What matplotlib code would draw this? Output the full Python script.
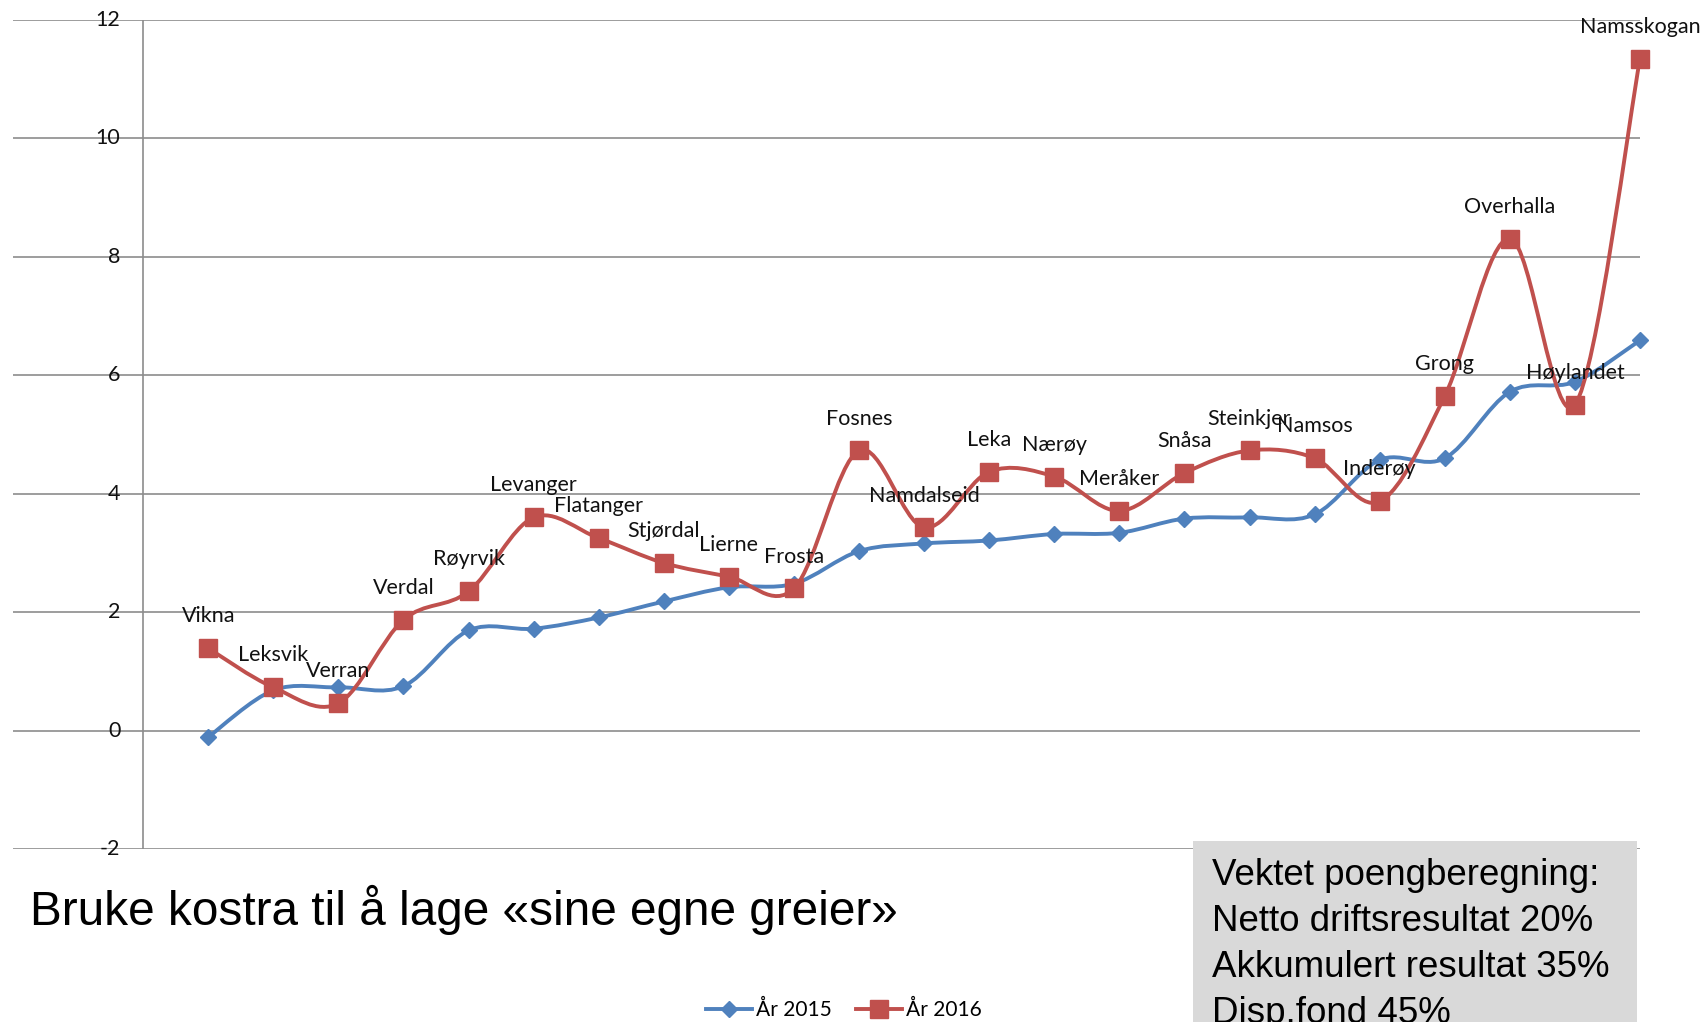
import matplotlib
matplotlib.use("Agg")
import matplotlib.pyplot as plt
import numpy as np
from matplotlib.path import Path
from matplotlib.patches import PathPatch, Rectangle
from matplotlib.lines import Line2D

kommuner = ["Vikna", "Leksvik", "Verran", "Verdal", "Røyrvik", "Levanger", "Flatanger",
            "Stjørdal", "Lierne", "Frosta", "Fosnes", "Namdalseid", "Leka", "Nærøy",
            "Meråker", "Snåsa", "Steinkjer", "Namsos", "Inderøy", "Grong", "Overhalla",
            "Høylandet", "Namsskogan"]
aar_2015 = [-0.11, 0.68, 0.73, 0.75, 1.69, 1.72, 1.91, 2.18, 2.42, 2.48, 3.03, 3.16,
            3.21, 3.32, 3.34, 3.58, 3.60, 3.65, 4.57, 4.60, 5.72, 5.89, 6.59]
aar_2016 = [1.39, 0.73, 0.46, 1.87, 2.35, 3.60, 3.25, 2.83, 2.60, 2.40, 4.73, 3.43,
            4.37, 4.29, 3.71, 4.35, 4.73, 4.60, 3.87, 5.65, 8.31, 5.50, 11.34]
y_ticks = [-2, 0, 2, 4, 6, 8, 10, 12]

BLUE = "#4F81BD"
RED = "#C0504D"
LABEL_FONT = "Lato"


def smooth_path(x, y):
    # Excel-like smoothed line: cubic bezier through every point
    pts = np.column_stack([x, y])
    n = len(pts)
    verts = [pts[0]]
    codes = [Path.MOVETO]
    for i in range(n - 1):
        p_prev = pts[i - 1] if i > 0 else pts[i]
        p0 = pts[i]
        p1 = pts[i + 1]
        p_next = pts[i + 2] if i + 2 < n else pts[i + 1]
        c1 = p0 + (p1 - p_prev) / 6.0
        c2 = p1 - (p_next - p0) / 6.0
        verts += [c1, c2, p1]
        codes += [Path.CURVE4] * 3
    return Path(verts, codes)


fig = plt.figure(figsize=(17.05, 10.22), dpi=100)
ax = fig.add_axes([13 / 1705, 1 - 849 / 1022, (1640 - 13) / 1705, (849 - 20) / 1022])

x = np.arange(1, len(kommuner) + 1)
ax.set_xlim(-2, len(kommuner))
ax.set_ylim(-2, 12)
for s in ax.spines.values():
    s.set_visible(False)
ax.set_xticks([])
ax.set_yticks([])

for v in y_ticks:
    ax.axhline(v, color="#8c8c8c", lw=1.2, zorder=0)
    ax.text(-0.35, v, str(v), ha="right", va="center", fontsize=15.5,
            family=LABEL_FONT, color="#111111")
ax.axvline(0, color="#8c8c8c", lw=1.2, zorder=0)

ax.add_patch(PathPatch(smooth_path(x, aar_2015), fill=False, edgecolor=BLUE,
                       lw=2.8, zorder=2))
ax.plot(x, aar_2015, ls="none", marker="D", ms=8, color=BLUE, zorder=3, clip_on=False)
ax.add_patch(PathPatch(smooth_path(x, aar_2016), fill=False, edgecolor=RED,
                       lw=2.8, zorder=4))
ax.plot(x, aar_2016, ls="none", marker="s", ms=13, color=RED, zorder=5, clip_on=False)

for xi, yi, name in zip(x, aar_2016, kommuner):
    ax.annotate(name, (xi, yi), xytext=(0, 23), textcoords="offset points",
                ha="center", va="center", fontsize=15.5, family=LABEL_FONT,
                color="#111111", zorder=6, annotation_clip=False)

handles = [Line2D([], [], color=BLUE, lw=2.8, marker="D", ms=8),
           Line2D([], [], color=RED, lw=2.8, marker="s", ms=13)]
fig.legend(handles, ["År 2015", "År 2016"], loc="center", bbox_to_anchor=(0.495, 0.012),
           ncol=2, frameon=False, prop={"family": LABEL_FONT, "size": 15},
           handlelength=2.2, handletextpad=0.2, columnspacing=1.2)

fig.text(30 / 1705, 1 - 925 / 1022, "Bruke kostra til å lage «sine egne greier»",
         fontsize=34.4, family="Liberation Sans", va="baseline", ha="left")

fig.patches.append(Rectangle((1193 / 1705, 0), (1637 - 1193) / 1705, 1 - 841 / 1022,
                             transform=fig.transFigure, facecolor="#D9D9D9",
                             edgecolor="none", zorder=10))
box_lines = ["Vektet poengberegning:", "Netto driftsresultat 20%",
             "Akkumulert resultat 35%", "Disp.fond 45%"]
for i, line in enumerate(box_lines):
    fig.text(1212 / 1705, 1 - (885 + 46 * i) / 1022, line, fontsize=26.5,
             family="Liberation Sans", va="baseline", ha="left", zorder=11)

fig.savefig("out.png", dpi=100)
